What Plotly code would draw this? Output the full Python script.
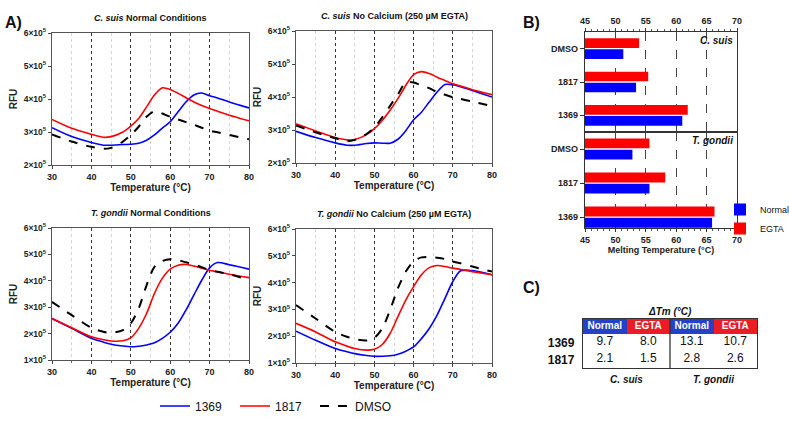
import plotly.graph_objects as go

W, H = 789, 421
FONT = "Liberation Sans, Arial, sans-serif"
BLUE = "#0000ff"
RED = "#ff0000"

# ---- Panel A data: RFU (x 1e5) vs temperature (C) ----
temps = [30, 35, 40, 43, 45, 48, 50, 52, 54, 56, 58, 60, 62, 64, 66, 68, 70, 72, 75, 80]

cs_norm_1369 = [3.13, 2.86, 2.68, 2.60, 2.60, 2.62, 2.63, 2.66, 2.75, 2.91, 3.12, 3.31, 3.61, 3.91, 4.12, 4.18, 4.10, 4.03, 3.91, 3.73]
cs_norm_1817 = [3.38, 3.11, 2.93, 2.84, 2.86, 3.00, 3.18, 3.41, 3.76, 4.12, 4.34, 4.29, 4.17, 4.04, 3.91, 3.80, 3.71, 3.63, 3.51, 3.34]
cs_norm_dmso = [2.93, 2.71, 2.55, 2.49, 2.52, 2.71, 2.91, 3.16, 3.46, 3.63, 3.56, 3.46, 3.38, 3.30, 3.22, 3.13, 3.04, 2.99, 2.91, 2.78]

cs_egta_1369 = [2.96, 2.77, 2.61, 2.54, 2.54, 2.59, 2.61, 2.60, 2.60, 2.72, 2.98, 3.31, 3.54, 3.85, 4.15, 4.38, 4.37, 4.31, 4.20, 4.00]
cs_egta_1817 = [3.19, 2.97, 2.77, 2.70, 2.71, 2.86, 3.04, 3.29, 3.60, 3.95, 4.35, 4.68, 4.77, 4.71, 4.60, 4.50, 4.40, 4.33, 4.22, 4.07]
cs_egta_dmso = [3.14, 2.93, 2.75, 2.66, 2.70, 2.88, 3.08, 3.38, 3.73, 4.08, 4.44, 4.44, 4.35, 4.27, 4.15, 4.07, 3.99, 3.94, 3.86, 3.72]

tg_norm_1369 = [2.57, 2.20, 1.82, 1.68, 1.60, 1.53, 1.50, 1.52, 1.57, 1.65, 1.82, 2.05, 2.39, 2.89, 3.46, 4.02, 4.49, 4.69, 4.61, 4.44]
tg_norm_1817 = [2.57, 2.22, 1.88, 1.77, 1.72, 1.73, 1.84, 2.20, 2.76, 3.52, 4.09, 4.44, 4.59, 4.62, 4.56, 4.48, 4.40, 4.34, 4.25, 4.12]
tg_norm_dmso = [3.20, 2.70, 2.22, 2.07, 2.03, 2.13, 2.39, 2.95, 3.83, 4.53, 4.75, 4.82, 4.78, 4.70, 4.62, 4.52, 4.40, 4.34, 4.25, 4.02]

tg_egta_1369 = [2.19, 1.85, 1.54, 1.42, 1.35, 1.28, 1.25, 1.25, 1.27, 1.33, 1.44, 1.60, 1.91, 2.29, 2.79, 3.41, 4.04, 4.44, 4.45, 4.29]
tg_egta_1817 = [2.48, 2.16, 1.79, 1.63, 1.54, 1.48, 1.51, 1.69, 2.10, 2.73, 3.35, 3.85, 4.29, 4.56, 4.64, 4.60, 4.54, 4.49, 4.41, 4.29]
tg_egta_dmso = [3.16, 2.66, 2.16, 1.98, 1.89, 1.84, 1.94, 2.29, 2.98, 3.79, 4.41, 4.79, 4.94, 4.96, 4.93, 4.88, 4.79, 4.72, 4.60, 4.41]

# ---- Panel B data: melting temperatures ----
compounds = ["DMSO", "1817", "1369"]
cs_tm_normal = [51.3, 53.4, 61.0]
cs_tm_egta = [53.9, 55.4, 61.9]
tg_tm_normal = [52.8, 55.6, 65.9]
tg_tm_egta = [55.6, 58.2, 66.3]
TM_BASE = 45

# ---- Panel C data: delta Tm ----
dtm_rows = ["1369", "1817"]
dtm_cols = ["Normal", "EGTA", "Normal", "EGTA"]
dtm_species = ["C. suis", "T. gondii"]
dtm_cs_normal = [9.7, 2.1]
dtm_cs_egta = [8.0, 1.5]
dtm_tg_normal = [13.1, 2.8]
dtm_tg_egta = [10.7, 2.6]

fig = go.Figure()
annotations = []

# ---------- Panel A ----------
panels = [
    ("<i>C. suis</i> Normal Conditions", cs_norm_1369, cs_norm_1817, cs_norm_dmso, (2, 6), (52, 249, 33, 165)),
    ("<i>C. suis</i> No Calcium (250 \u00b5M EGTA)", cs_egta_1369, cs_egta_1817, cs_egta_dmso, (2, 6), (296, 492, 31, 163)),
    ("<i>T. gondii</i> Normal Conditions", tg_norm_1369, tg_norm_1817, tg_norm_dmso, (1, 6), (52, 249, 228, 360)),
    ("<i>T. gondii</i> No Calcium (250 \u00b5M EGTA)", tg_egta_1369, tg_egta_1817, tg_egta_dmso, (1, 6), (296, 492, 229, 363)),
]

for i, (title, s1369, s1817, sdmso, (ylo, yhi), (x0, x1, y0, y1)) in enumerate(panels, start=1):
    sfx = "" if i == 1 else str(i)
    for name, vals, color, dash, lw in [("1369", s1369, BLUE, "solid", 1.6),
                                         ("1817", s1817, RED, "solid", 1.6),
                                         ("DMSO", sdmso, "black", "dash", 2)]:
        fig.add_trace(go.Scatter(
            x=temps, y=[v * 1e5 for v in vals], mode="lines", name=name,
            line=dict(color=color, dash=dash, width=lw, shape="spline", smoothing=0.8),
            xaxis="x" + sfx, yaxis="y" + sfx, showlegend=(i == 1), legend="legend"))
    tv = list(range(ylo, yhi + 1))
    fig.layout["xaxis" + sfx] = dict(
        domain=[x0 / W, x1 / W], anchor="y" + sfx, range=[30, 80], tick0=30, dtick=10,
        automargin=False, ticks="outside", ticklen=3, tickcolor="#444",
        showline=True, linecolor="#555", linewidth=1.3, mirror=True,
        showgrid=True, gridcolor="#333", griddash="dot", gridwidth=1,
        minor=dict(dtick=5, showgrid=True, gridcolor="#d4d4d4", gridwidth=1,
                   ticks="outside", ticklen=2, tickcolor="#666"),
        tickfont=dict(size=9, family=FONT, weight="bold", color="#222"),
        title=dict(text="Temperature (\u00b0C)", standoff=2,
                   font=dict(size=10, family=FONT, weight="bold", color="#222")),
        zeroline=False)
    fig.layout["yaxis" + sfx] = dict(
        domain=[1 - y1 / H, 1 - y0 / H], anchor="x" + sfx, range=[ylo * 1e5, yhi * 1e5],
        tickvals=[v * 1e5 for v in tv], ticktext=[f"{v}\u00d710<sup>5</sup>" for v in tv],
        automargin=False, ticks="outside", ticklen=3, tickcolor="#444",
        showline=True, linecolor="#555", linewidth=1.3, mirror=True, showgrid=False,
        tickfont=dict(size=8.5, family=FONT, weight="bold", color="#222"),
        title=dict(text="RFU", standoff=4, font=dict(size=10, family=FONT, weight="bold", color="#222")),
        zeroline=False)
    annotations.append(dict(text=title, xref=f"x{sfx} domain", yref=f"y{sfx} domain",
                            x=0.5, y=1, yanchor="bottom", yshift=8, showarrow=False,
                            font=dict(size=9, family=FONT, weight="bold", color="#111")))

# ---------- Panel B ----------
bx0, bx1 = 585, 737
for k, (normal, egta, (y0, y1), rng, species) in enumerate([
        (cs_tm_normal, cs_tm_egta, (32, 132), [-0.5, 2.5], "C. suis"),
        (tg_tm_normal, tg_tm_egta, (132, 228), [-0.32, 2.5], "T. gondii")]):
    n = 5 + k
    fig.add_trace(go.Bar(y=compounds, x=[v - TM_BASE for v in normal], base=TM_BASE,
                         orientation="h", name="Normal", marker=dict(color=BLUE, line=dict(width=0)),
                         xaxis=f"x{n}", yaxis=f"y{n}", showlegend=(k == 0), legend="legend2"))
    fig.add_trace(go.Bar(y=compounds, x=[v - TM_BASE for v in egta], base=TM_BASE,
                         orientation="h", name="EGTA", marker=dict(color=RED, line=dict(width=0)),
                         xaxis=f"x{n}", yaxis=f"y{n}", showlegend=(k == 0), legend="legend2"))
    fig.layout[f"xaxis{n}"] = dict(
        domain=[bx0 / W, bx1 / W], anchor=f"y{n}", range=[45, 70], tick0=45, dtick=5,
        side="top" if k == 0 else "bottom", automargin=False,
        ticks="outside", ticklen=3, tickcolor="#333",
        showline=True, linecolor="#333", linewidth=1.3, mirror=True,
        showgrid=True, gridcolor="#444", griddash="dash", gridwidth=1,
        minor=dict(dtick=1, ticks="outside", ticklen=2, tickcolor="#555"),
        tickfont=dict(size=9, family=FONT, weight="bold", color="#222"),
        title=dict(text="Melting Temperature (\u00b0C)" if k == 1 else "", standoff=2,
                   font=dict(size=9, family=FONT, weight="bold", color="#222")),
        zeroline=False)
    fig.layout[f"yaxis{n}"] = dict(
        domain=[1 - y1 / H, 1 - y0 / H], anchor=f"x{n}", type="category",
        categoryorder="array", categoryarray=compounds[::-1], range=rng, automargin=False,
        ticks="outside", ticklen=4, tickcolor="#333",
        showline=True, linecolor="#333", linewidth=1.3, mirror=True, showgrid=False,
        tickfont=dict(size=9, family=FONT, weight="bold", color="#222"))
    annotations.append(dict(text=f"<i>{species}</i>", xref=f"x{n} domain", yref=f"y{n} domain",
                            x=1, y=1, xanchor="right", yanchor="top", xshift=-2, yshift=-1,
                            showarrow=False,
                            font=dict(size=10, family=FONT, weight="bold", color="#111")))

# ---------- Panel C (table on its own axes) ----------
TBL_BLUE = "#2142c9"
TBL_RED = "#ec1c24"
col_x = [0.5, 1.5, 2.5, 3.5]
row_y = [2, 1]          # 1369 row on top, 1817 below
hdr_lo, hdr_hi = 2.5, 3.38
fig.add_trace(go.Heatmap(
    z=[[0, 1, 0, 1]], x=[0, 1, 2, 3, 4], y=[hdr_lo, hdr_hi], zmin=0, zmax=1,
    colorscale=[[0, TBL_BLUE], [0.5, TBL_BLUE], [0.5, TBL_RED], [1, TBL_RED]],
    showscale=False, hoverinfo="skip", xaxis="x7", yaxis="y7"))
fig.add_trace(go.Scatter(
    x=col_x, y=[(hdr_lo + hdr_hi) / 2] * 4, text=[f"<b>{c}</b>" for c in dtm_cols], mode="text",
    textfont=dict(color="white", size=10, family=FONT), showlegend=False, hoverinfo="skip",
    xaxis="x7", yaxis="y7"))
for r, ry in enumerate(row_y):
    vals = [dtm_cs_normal[r], dtm_cs_egta[r], dtm_tg_normal[r], dtm_tg_egta[r]]
    fig.add_trace(go.Scatter(
        x=col_x, y=[ry] * 4, text=[f"{v:.1f}" for v in vals], mode="text",
        textfont=dict(color="#111", size=12, family=FONT), showlegend=False, hoverinfo="skip",
        xaxis="x7", yaxis="y7"))
# divider between the two species, running through header and body
fig.add_trace(go.Scatter(
    x=[2, 2], y=[0.5, hdr_hi], mode="lines", line=dict(color="#333", width=1.3),
    showlegend=False, hoverinfo="skip", xaxis="x7", yaxis="y7"))
fig.layout["xaxis7"] = dict(
    domain=[583 / W, 757 / W], anchor="y7", range=[0, 4], automargin=False,
    tickvals=[1, 3], ticktext=[f"<i>{s}</i>" for s in dtm_species], ticks="",
    ticklabelstandoff=2, tickfont=dict(size=10, family=FONT, weight="bold", color="#111"),
    showline=True, linecolor="#333", linewidth=1.3, mirror=True, showgrid=False, zeroline=False)
fig.layout["yaxis7"] = dict(
    domain=[1 - 368 / H, 1 - 319 / H], anchor="x7", range=[0.5, hdr_hi], automargin=False,
    tickvals=row_y, ticktext=[f"<b>{r}</b>" for r in dtm_rows], ticks="",
    ticklabelstandoff=5, tickfont=dict(size=12, family=FONT, color="#111"),
    showline=True, linecolor="#333", linewidth=1.3, mirror=True, showgrid=False, zeroline=False)
annotations.append(dict(text="<i>\u0394Tm (\u00b0C)</i>", xref="x7 domain", yref="y7 domain",
                        x=0.5, y=1, yanchor="bottom", yshift=0, showarrow=False,
                        font=dict(size=10, family=FONT, weight="bold", color="#111")))

# ---------- panel letters ----------
for letter, lx, ly in [("A)", 3, 12), ("B)", 521, 12), ("C)", 521, 298)]:
    annotations.append(dict(text=letter, x=lx / W, y=1 - ly / H, xref="paper", yref="paper",
                            xanchor="left", showarrow=False,
                            font=dict(size=16, family=FONT, weight="bold", color="#111")))

fig.update_layout(
    width=W, height=H, margin=dict(l=0, r=0, t=0, b=0, autoexpand=False),
    paper_bgcolor="white", plot_bgcolor="white",
    barmode="group", bargap=0.34, bargroupgap=0.12,
    annotations=annotations,
    font=dict(family=FONT),
    legend=dict(orientation="h", x=155 / W, y=1 - 406 / H, yanchor="middle", xanchor="left",
                entrywidth=35, entrywidthmode="pixels",
                font=dict(size=12, family=FONT, color="#111"), bgcolor="rgba(0,0,0,0)"),
    legend2=dict(x=720 / W, y=1 - 195 / H, yanchor="top", xanchor="left",
                 font=dict(size=9, family=FONT, color="#111"), bgcolor="rgba(0,0,0,0)",
                 tracegroupgap=0),
)

# page body has a default 8px margin; drop it so the figure sits at the window origin
fig.write_html("out.html", config={"displayModeBar": False},
               post_script="document.body.style.margin='0';")
